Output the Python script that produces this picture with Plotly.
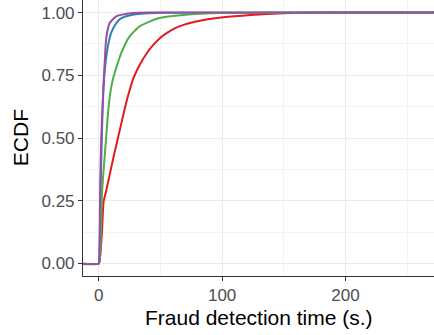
import plotly.graph_objects as go

# ECDF curves (x = seconds, y = cumulative fraction)
red_x = [-20, 0, 0.5, 1.2, 2.6, 3.9, 6, 8, 10, 12, 16, 20, 23.7, 28.2, 33, 38.5, 44, 50, 55.3, 62, 68.8, 82, 95.8, 110, 122.9, 150, 180, 300]
red_y = [0, 0, 0.01, 0.035, 0.128, 0.246, 0.29, 0.335, 0.38, 0.425, 0.51, 0.595, 0.668, 0.74, 0.79, 0.835, 0.87, 0.9, 0.919, 0.938, 0.951, 0.967, 0.978, 0.985, 0.99, 0.997, 1.0, 1.0]

blue_x = [-20, 0, 0.5, 1.5, 3, 4.5, 7.4, 10.1, 14.2, 17.4, 24.7, 33.7, 50, 300]
blue_y = [0, 0, 0.02, 0.3, 0.6, 0.75, 0.866, 0.92, 0.958, 0.975, 0.988, 0.995, 0.999, 1.0]

green_x = [-20, 0, 0.5, 1.2, 2.6, 3.4, 4.5, 6.1, 7.5, 8.8, 10, 12, 14.2, 18.3, 25, 33, 41.2, 49.3, 68.5, 100, 300]
green_y = [0, 0, 0.01, 0.035, 0.28, 0.34, 0.41, 0.51, 0.6, 0.66, 0.7, 0.745, 0.78, 0.84, 0.905, 0.945, 0.964, 0.978, 0.99, 0.998, 1.0]

purple_x = [-20, 0, 0.5, 1.2, 2, 3.4, 5.5, 6.1, 8.8, 14.2, 28, 40, 300]
purple_y = [0, 0, 0.03, 0.33, 0.5, 0.668, 0.866, 0.9, 0.958, 0.985, 0.998, 1.0, 1.0]

x_ticks = [0, 100, 200]
y_ticks = [0, 0.25, 0.5, 0.75, 1.0]
y_tick_labels = ["0.00", "0.25", "0.50", "0.75", "1.00"]

series = [
    (red_x, red_y, "#E41A1C"),
    (blue_x, blue_y, "#377EB8"),
    (green_x, green_y, "#4DAF4A"),
    (purple_x, purple_y, "#984EA3"),
]

fig = go.Figure()
for xs, ys, col in series:
    fig.add_trace(go.Scatter(x=xs, y=ys, mode="lines",
                             line=dict(color=col, width=2, shape="spline", smoothing=0.5),
                             showlegend=False, hoverinfo="skip"))

font = "Liberation Sans, Arial, Helvetica, sans-serif"
fig.update_layout(
    width=434, height=335,
    margin=dict(l=83, r=0, t=0, b=59),
    plot_bgcolor="white", paper_bgcolor="white",
    font=dict(family=font, size=17, color="#4D4D4D"),
    xaxis=dict(range=[-12.8, 271.8], tickvals=x_ticks, showgrid=True, gridcolor="#EBEBEB",
               gridwidth=1.3, zeroline=False, showline=True, linecolor="#333333", linewidth=1.1,
               ticks="outside", ticklen=4, tickcolor="#333333", tickwidth=1.1,
               tickfont=dict(size=17, color="#4D4D4D"),
               minor=dict(dtick=50, tick0=0, showgrid=True, gridcolor="#F3F3F3", gridwidth=0.8)),
    yaxis=dict(range=[-0.05, 1.05], tickvals=y_ticks, ticktext=y_tick_labels, showgrid=True,
               gridcolor="#EBEBEB", gridwidth=1.3, zeroline=False, showline=True,
               linecolor="#333333", linewidth=1.1, ticks="outside", ticklen=4,
               tickcolor="#333333", tickwidth=1.1, tickfont=dict(size=17, color="#4D4D4D"),
               minor=dict(dtick=0.125, tick0=0, showgrid=True, gridcolor="#F3F3F3", gridwidth=0.8)),
    annotations=[
        dict(text="Fraud detection time (s.)", xref="paper", yref="paper", x=0.5, y=-0.149,
             xanchor="center", yanchor="middle", showarrow=False,
             font=dict(size=21, color="black", family=font)),
        dict(text="ECDF", xref="paper", yref="paper", x=-0.179, y=0.5, textangle=-90,
             xanchor="center", yanchor="middle", showarrow=False,
             font=dict(size=21, color="black", family=font)),
    ],
)

fig.write_html("out.html")
